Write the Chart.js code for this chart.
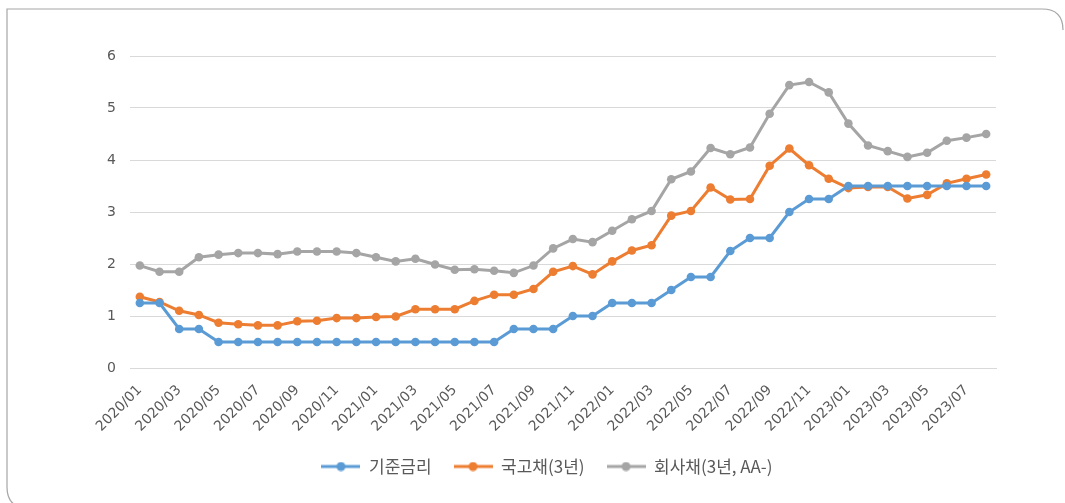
<!DOCTYPE html>
<html>
<head>
<meta charset="utf-8">
<script src="https://cdn.jsdelivr.net/npm/chart.js@4"></script>
<style>
  html, body { margin: 0; padding: 0; background: #fff; }
  #wrap { position: relative; width: 1065px; height: 503px; overflow: hidden; }
  #frame { position: absolute; left: 0; top: 0; }
  #chart { position: absolute; left: 0; top: 0; }
</style>
</head>
<body>
<div id="wrap">
  <svg id="frame" width="1065" height="503">
    <path d="M1063,30 Q1063,9 1042,9 L7,9 L7,487 Q7,508 28,508" fill="none" stroke="#a6a6a6" stroke-width="1.2"/>
  </svg>
  <canvas id="chart" width="1065" height="503"></canvas>
</div>
<script>
  // months 2020/01 - 2023/08
  const months = [
    "2020/01", "2020/02", "2020/03", "2020/04", "2020/05", "2020/06", "2020/07", "2020/08", "2020/09", "2020/10", "2020/11", "2020/12",
    "2021/01", "2021/02", "2021/03", "2021/04", "2021/05", "2021/06", "2021/07", "2021/08", "2021/09", "2021/10", "2021/11", "2021/12",
    "2022/01", "2022/02", "2022/03", "2022/04", "2022/05", "2022/06", "2022/07", "2022/08", "2022/09", "2022/10", "2022/11", "2022/12",
    "2023/01", "2023/02", "2023/03", "2023/04", "2023/05", "2023/06", "2023/07", "2023/08"
  ];

  // 기준금리
  const baseRate = [
    1.25, 1.25, 0.75, 0.75, 0.5, 0.5, 0.5, 0.5, 0.5, 0.5, 0.5, 0.5,
    0.5, 0.5, 0.5, 0.5, 0.5, 0.5, 0.5, 0.75, 0.75, 0.75, 1.0, 1.0,
    1.25, 1.25, 1.25, 1.5, 1.75, 1.75, 2.25, 2.5, 2.5, 3.0, 3.25, 3.25,
    3.5, 3.5, 3.5, 3.5, 3.5, 3.5, 3.5, 3.5
  ];

  // 국고채(3년)
  const treasury3y = [
    1.37, 1.27, 1.10, 1.02, 0.87, 0.84, 0.82, 0.82, 0.90, 0.91, 0.96, 0.96,
    0.98, 0.99, 1.13, 1.13, 1.13, 1.29, 1.41, 1.41, 1.52, 1.85, 1.96, 1.80,
    2.05, 2.26, 2.36, 2.93, 3.02, 3.47, 3.24, 3.25, 3.89, 4.22, 3.90, 3.64,
    3.46, 3.48, 3.48, 3.26, 3.33, 3.55, 3.64, 3.72
  ];

  // 회사채(3년, AA-)
  const corpAA = [
    1.97, 1.85, 1.85, 2.13, 2.18, 2.21, 2.21, 2.19, 2.24, 2.24, 2.24, 2.21,
    2.13, 2.05, 2.10, 1.99, 1.89, 1.90, 1.87, 1.83, 1.97, 2.30, 2.48, 2.42,
    2.64, 2.86, 3.02, 3.63, 3.78, 4.23, 4.11, 4.24, 4.89, 5.44, 5.50, 5.30,
    4.70, 4.28, 4.17, 4.06, 4.14, 4.37, 4.43, 4.50
  ];

  const seriesNames = ["기준금리", "국고채(3년)", "회사채(3년, AA-)"];
  const colors = ["#5b9bd5", "#ed7d31", "#a5a5a5"];
  const yTicks = [0, 1, 2, 3, 4, 5, 6];

  const KR_FONT = "'Noto Sans CJK KR', 'Noto Sans', sans-serif";
  const NUM_FONT = "'DejaVu Sans', sans-serif";
  const TEXT = "#595959";

  // legend symbol: short line with a dot in the middle
  function legendIcon(color) {
    const c = document.createElement("canvas");
    c.width = 39; c.height = 10;
    const g = c.getContext("2d");
    g.strokeStyle = color; g.lineWidth = 3;
    g.beginPath(); g.moveTo(0, 5); g.lineTo(39, 5); g.stroke();
    g.fillStyle = color;
    g.beginPath(); g.arc(19.5, 5, 4.5, 0, Math.PI * 2); g.fill();
    return c;
  }

  // legend sits a bit right of the canvas centre in the original
  const legendShift = {
    id: "legendShift",
    afterLayout(chart) {
      chart.legend.left += 49;
      chart.legend.right += 49;
    }
  };

  const makeSet = (i, data) => ({
    label: seriesNames[i],
    data: data,
    borderColor: colors[i],
    backgroundColor: colors[i],
    borderWidth: 3,
    pointRadius: 4.3,
    pointBackgroundColor: colors[i],
    pointBorderColor: colors[i],
    pointBorderWidth: 0,
    tension: 0,
    fill: false
  });

  new Chart(document.getElementById("chart"), {
    type: "line",
    data: {
      labels: months,
      datasets: [makeSet(0, baseRate), makeSet(1, treasury3y), makeSet(2, corpAA)]
    },
    plugins: [legendShift],
    options: {
      responsive: false,
      animation: false,
      layout: { padding: { left: 0, right: 69, top: 56, bottom: 18 } },
      plugins: {
        tooltip: { enabled: false },
        legend: {
          position: "bottom",
          labels: {
            color: TEXT,
            font: { family: KR_FONT, size: 17 },
            usePointStyle: true,
            pointStyleWidth: 39,
            boxHeight: 10,
            padding: 22,
            generateLabels: (chart) => chart.data.datasets.map((ds, i) => ({
              text: ds.label,
              fillStyle: colors[i],
              strokeStyle: colors[i],
              lineWidth: 0,
              pointStyle: legendIcon(colors[i]),
              fontColor: TEXT,
              datasetIndex: i,
              hidden: false
            }))
          }
        }
      },
      scales: {
        x: {
          offset: true,
          grid: { display: false, drawTicks: false },
          border: { display: true, color: "#d9d9d9", width: 1 },
          afterFit: (s) => { s.height = 68; },
          ticks: {
            autoSkip: false,
            maxRotation: 45,
            minRotation: 45,
            padding: 14,
            color: TEXT,
            font: { family: NUM_FONT, size: 14 },
            callback: function (v, i) { return i % 2 === 0 ? months[i] : ""; }
          }
        },
        y: {
          min: yTicks[0],
          max: yTicks[yTicks.length - 1],
          afterFit: (s) => { s.width = 130; },
          afterBuildTicks: (s) => { s.ticks = yTicks.map(v => ({ value: v })); },
          grid: { color: "#d9d9d9", lineWidth: 1, drawTicks: false },
          border: { display: false },
          ticks: {
            padding: 14,
            color: TEXT,
            font: { family: NUM_FONT, size: 14 }
          }
        }
      }
    }
  });
</script>
</body>
</html>
